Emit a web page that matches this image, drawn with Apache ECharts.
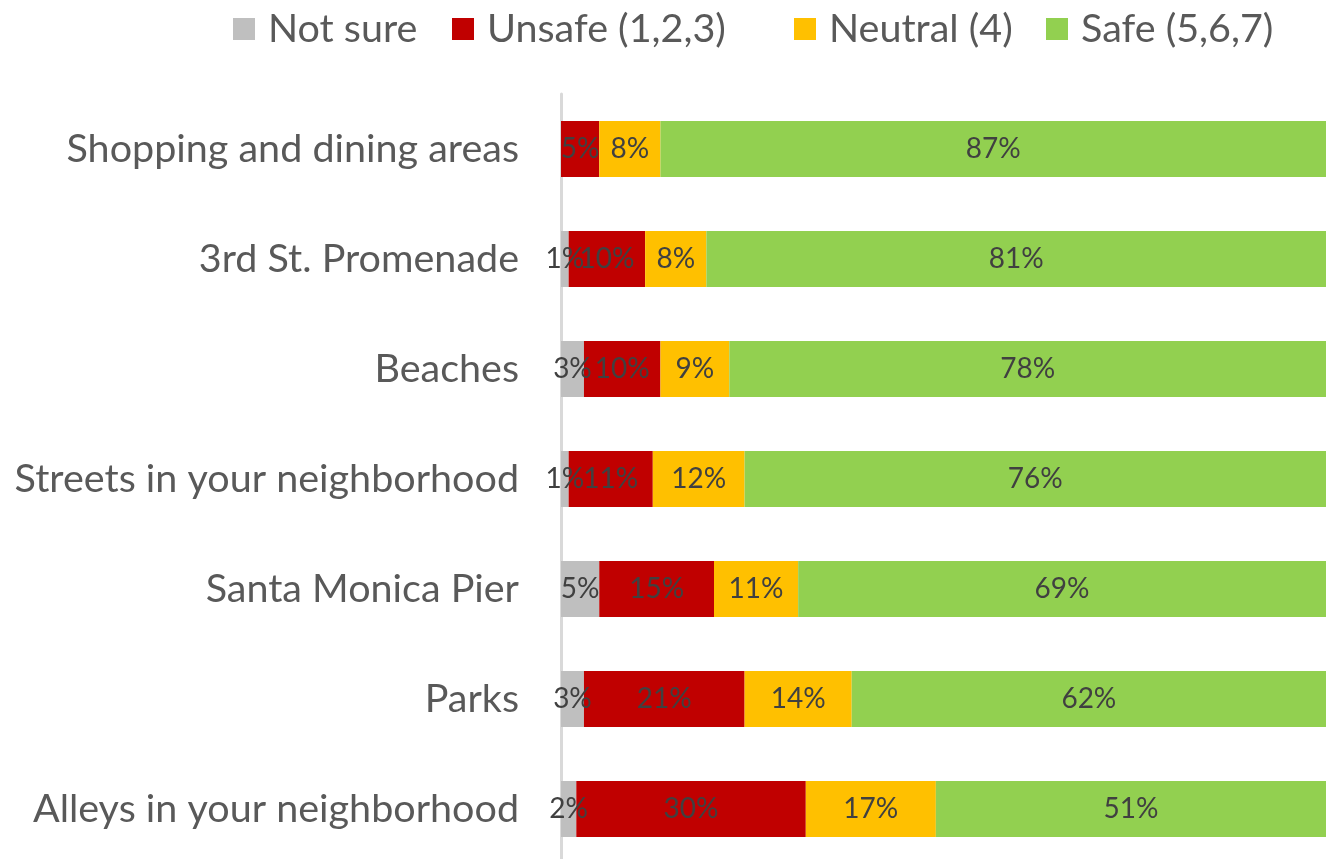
<!DOCTYPE html>
<html>
<head>
<meta charset="utf-8">
<script src="https://cdn.jsdelivr.net/npm/echarts@6/dist/echarts.min.js"></script>
<style>
  html, body { margin: 0; padding: 0; background: #fff; overflow: hidden; }
  #chart { width: 1326px; height: 880px; }
</style>
</head>
<body>
<div id="chart"></div>
<script>
const places = [
  'Shopping and dining areas',
  '3rd St. Promenade',
  'Beaches',
  'Streets in your neighborhood',
  'Santa Monica Pier',
  'Parks',
  'Alleys in your neighborhood'
]
const notSure = [0, 1, 3, 1, 5, 3, 2]
const unsafe = [5, 10, 10, 11, 15, 21, 30]
const neutral = [8, 8, 9, 12, 11, 14, 17]
const safe = [87, 81, 78, 76, 69, 62, 51]

const seriesNames = ['Not sure', 'Unsafe (1,2,3)', 'Neutral (4)', 'Safe (5,6,7)']
const seriesColors = ['#BFBFBF', '#C00000', '#FFC000', '#92D050']
const seriesData = [notSure, unsafe, neutral, safe]
// legend entry left edges, the reference spreads them wider than the font does
const legendLeft = [228, 447, 789, 1041]

const font = 'Lato'

const myChart = echarts.init(document.getElementById('chart'))
myChart.setOption({
  animation: false,
  textStyle: { fontFamily: font },
  legend: seriesNames.map((name, i) => ({
    left: legendLeft[i],
    top: 4,
    icon: 'rect',
    itemWidth: 22,
    itemHeight: 22,
    textStyle: {
      fontFamily: font,
      fontSize: 39.5,
      color: '#595959',
      padding: [0, 0, 0, 8]
    },
    data: [name]
  })),
  grid: {
    left: 561,
    right: 0,
    top: 94,
    height: 770
  },
  xAxis: {
    type: 'value',
    min: 0,
    max: 100,
    show: false
  },
  yAxis: {
    type: 'category',
    inverse: true,
    data: places,
    axisLine: { show: true, lineStyle: { color: '#D9D9D9', width: 3 } },
    axisTick: { show: false },
    axisLabel: {
      margin: 42,
      fontFamily: font,
      fontSize: 39.5,
      color: '#595959'
    }
  },
  series: seriesData.map((d, i) => ({
    name: seriesNames[i],
    type: 'bar',
    stack: 'total',
    barWidth: 56,
    data: d,
    itemStyle: { color: seriesColors[i] },
    label: {
      show: true,
      position: 'inside',
      fontFamily: font,
      fontSize: 28,
      color: '#404040',
      formatter: p => (p.value > 0 ? p.value + '%' : '')
    }
  }))
})
</script>
</body>
</html>
